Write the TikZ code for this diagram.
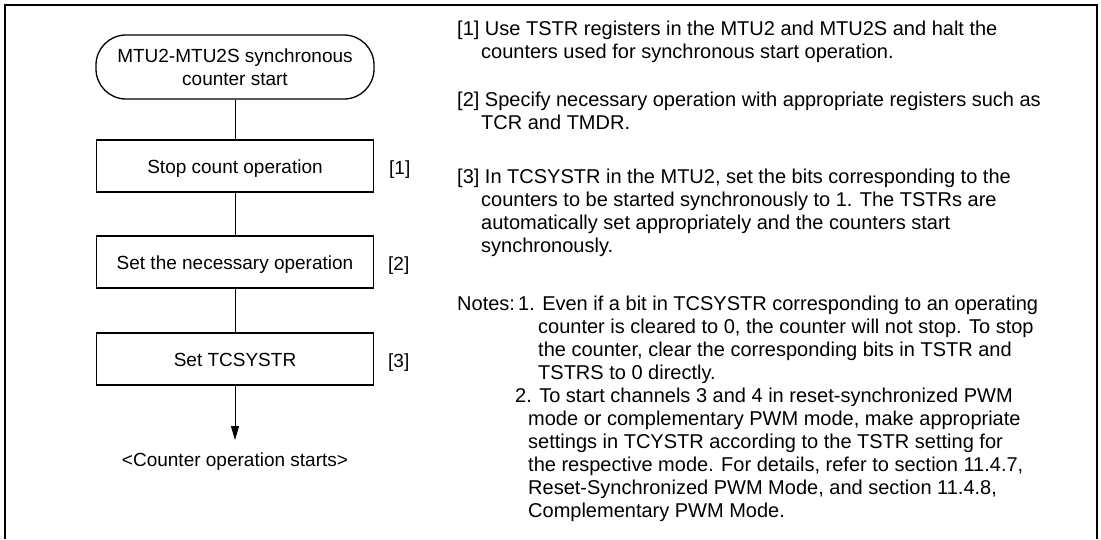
\documentclass[tikz,border=0pt]{standalone}
\usepackage{fontspec}
\setmainfont{Liberation Sans}
\usetikzlibrary{arrows.meta}
\begin{document}
\begin{tikzpicture}[x=1pt,y=-1pt,
  frame/.style={line width=2pt},
  term/.style={draw, line width=1.3pt, rounded corners=30pt, minimum width=278pt, minimum height=64pt, align=center, inner sep=0pt, text depth=-4pt, font=\fontsize{19}{23}\selectfont},
  proc/.style={draw, line width=1.9pt, minimum width=277pt, minimum height=52pt, inner sep=0pt, text height=14pt, text depth=-3pt, font=\fontsize{19}{23}\selectfont},
  conn/.style={line width=1pt},
  lab/.style={inner sep=0pt, font=\fontsize{19}{23}\selectfont},
  txt/.style={anchor=base west, inner sep=0pt, font=\fontsize{20}{23}\selectfont}]
\useasboundingbox (0,0) rectangle (1101,539);
\draw[frame] (5,539) -- (5,5) -- (1097,5) -- (1097,539);
% flowchart
\node[term] (start) at (235,67) {MTU2-MTU2S synchronous\\counter start};
\node[proc] (s1) at (235,166) {Stop count operation};
\node[proc] (s2) at (235,262) {Set the necessary operation};
\node[proc] (s3) at (235,359) {Set TCSYSTR};
\coordinate (endtip) at (235,440);
\node[lab] (endtxt) at (235,462) {<Counter operation starts>};
\draw[conn] (start) -- (s1);
\draw[conn] (s1) -- (s2);
\draw[conn] (s2) -- (s3);
\draw[conn, -{Triangle[length=14pt,width=8pt]}] (s3) -- (endtip);
\node[lab, anchor=base west] (l1) at (389,174) {[1]};
\node[lab, anchor=base west] (l2) at (388,270) {[2]};
\node[lab, anchor=base west] (l3) at (388,367) {[3]};
% explanations
\node[txt] (a1) at (457,35) {[1] Use TSTR registers in the MTU2 and MTU2S and halt the};
\node[txt] (a2) at (481,58) {counters used for synchronous start operation.};
\node[txt] (b1) at (457,106) {[2] Specify necessary operation with appropriate registers such as};
\node[txt] (b2) at (481,129) {TCR and TMDR.};
\node[txt] (c1) at (457,183) {[3] In TCSYSTR in the MTU2, set the bits corresponding to the};
\node[txt] (c2) at (481,206) {counters to be started synchronously to 1. The TSTRs are};
\node[txt] (c3) at (481,229) {automatically set appropriately and the counters start};
\node[txt] (c4) at (481,252) {synchronously.};
\node[txt] (n0) at (457,310) {Notes:};
\node[txt] (n1a) at (518,310) {1. Even if a bit in TCSYSTR corresponding to an operating};
\node[txt] (n1b) at (538,333) {counter is cleared to 0, the counter will not stop. To stop};
\node[txt] (n1c) at (538,356) {the counter, clear the corresponding bits in TSTR and};
\node[txt] (n1d) at (538,379) {TSTRS to 0 directly.};
\node[txt] (n2a) at (515,402) {2. To start channels 3 and 4 in reset-synchronized PWM};
\node[txt] (n2b) at (528,425) {mode or complementary PWM mode, make appropriate};
\node[txt] (n2c) at (528,448) {settings in TCYSTR according to the TSTR setting for};
\node[txt] (n2d) at (528,471) {the respective mode. For details, refer to section 11.4.7,};
\node[txt] (n2e) at (528,494) {Reset-Synchronized PWM Mode, and section 11.4.8,};
\node[txt] (n2f) at (528,517) {Complementary PWM Mode.};
\end{tikzpicture}
\end{document}
